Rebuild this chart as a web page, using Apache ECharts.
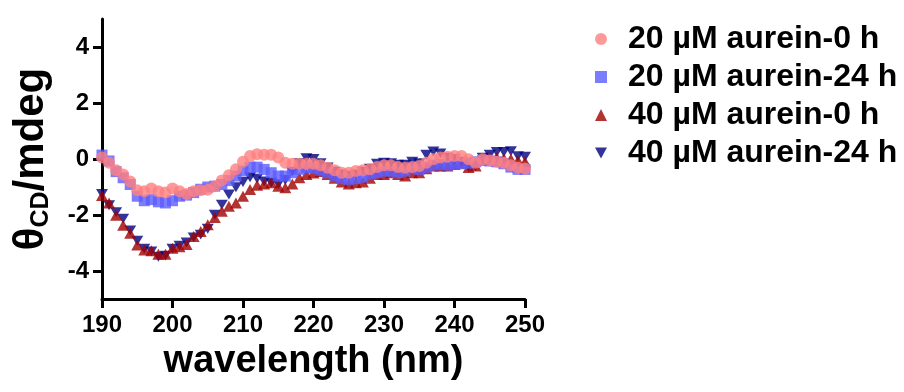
<!DOCTYPE html>
<html>
<head>
<meta charset="utf-8">
<script src="https://cdn.jsdelivr.net/npm/echarts@6/dist/echarts.min.js"></script>
<style>
    html, body { margin: 0; padding: 0; background: #fff; }
    #chart { width: 904px; height: 392px; }
</style>
</head>
<body>
<div id="chart"></div>
<script>
// wavelength (nm)
var wavelength = [190, 191, 192, 193, 194, 195, 196, 197, 198, 199,
    200, 201, 202, 203, 204, 205, 206, 207, 208, 209,
    210, 211, 212, 213, 214, 215, 216, 217, 218, 219,
    220, 221, 222, 223, 224, 225, 226, 227, 228, 229,
    230, 231, 232, 233, 234, 235, 236, 237, 238, 239,
    240, 241, 242, 243, 244, 245, 246, 247, 248, 249, 250];

// 20 µM aurein-0 h
var aurein20_0h = [0.05, -0.13, -0.40, -0.55, -0.80, -1.12, -1.15, -1.05, -1.15, -1.20,
    -1.05, -1.15, -1.25, -1.15, -1.12, -1.10, -0.97, -0.77, -0.58, -0.37,
    -0.10, 0.11, 0.17, 0.15, 0.15, 0.05, -0.13, -0.17, -0.17, -0.17,
    -0.17, -0.22, -0.31, -0.40, -0.49, -0.49, -0.43, -0.40, -0.37, -0.29,
    -0.22, -0.22, -0.29, -0.31, -0.29, -0.25, -0.13, -0.01, 0.05, 0.08,
    0.11, 0.11, -0.01, -0.13, -0.01, -0.05, -0.10, -0.13, -0.22, -0.31, -0.35];

// 20 µM aurein-24 h
var aurein20_24h = [0.14, -0.07, -0.45, -0.67, -0.91, -1.33, -1.49, -1.45, -1.53, -1.57,
    -1.49, -1.33, -1.29, -1.20, -1.08, -1.00, -0.97, -0.91, -0.77, -0.61,
    -0.43, -0.29, -0.29, -0.37, -0.49, -0.61, -0.61, -0.49, -0.37, -0.31,
    -0.33, -0.40, -0.49, -0.61, -0.70, -0.73, -0.70, -0.65, -0.55, -0.49,
    -0.43, -0.43, -0.49, -0.43, -0.33, -0.37, -0.29, -0.22, -0.19, -0.22,
    -0.19, -0.17, -0.15, -0.10, -0.05, -0.07, -0.10, -0.17, -0.29, -0.37, -0.37];

// 40 µM aurein-0 h
var aurein40_0h = [-1.30, -1.57, -2.01, -2.37, -2.65, -3.07, -3.25, -3.28, -3.40, -3.40,
    -3.19, -3.13, -3.05, -2.77, -2.59, -2.35, -2.09, -1.87, -1.69, -1.57,
    -1.33, -1.09, -0.94, -0.89, -0.85, -0.97, -1.03, -0.89, -0.67, -0.55,
    -0.50, -0.45, -0.55, -0.69, -0.82, -0.89, -0.85, -0.82, -0.69, -0.55,
    -0.55, -0.49, -0.55, -0.61, -0.49, -0.49, -0.35, -0.25, -0.25, -0.25,
    -0.20, -0.15, -0.30, -0.25, 0.02, 0.05, 0.05, 0.02, 0.00, -0.05, -0.10];

// 40 µM aurein-24 h
var aurein40_24h = [-1.25, -1.65, -1.90, -2.13, -2.55, -2.92, -3.20, -3.30, -3.49, -3.45,
    -3.20, -3.10, -2.98, -2.80, -2.70, -2.49, -1.99, -1.63, -1.27, -1.01,
    -0.82, -0.65, -0.70, -0.80, -0.85, -0.90, -0.75, -0.45, -0.15, 0.03,
    0.00, -0.15, -0.30, -0.45, -0.55, -0.60, -0.55, -0.45, -0.35, -0.17,
    -0.13, -0.15, -0.20, -0.20, -0.10, -0.15, 0.15, 0.27, 0.20, 0.05,
    0.00, -0.10, -0.30, -0.25, 0.05, 0.15, 0.25, 0.25, 0.28, 0.10, 0.08];

var xTicks = [190, 200, 210, 220, 230, 240, 250];
var yTicks = [-4, -2, 0, 2, 4];

var names = ['20 µM aurein-0 h', '20 µM aurein-24 h', '40 µM aurein-0 h', '40 µM aurein-24 h'];

// downward triangle, used for the 24 h / 40 µM set (also in the legend)
var triangleDown = 'path://M0,0L10,0L5,9Z';

function pairs(values) {
    return wavelength.map(function (w, i) { return [w, values[i]]; });
}

var font = 'Liberation Sans, Arial, Helvetica, sans-serif';
var axisColor = '#000';

var myChart = echarts.init(document.getElementById('chart'), null, { renderer: 'canvas' });

var option = {
    animation: false,
    backgroundColor: '#fff',
    textStyle: { fontFamily: font },
    grid: { left: 102, right: 379, top: 19, bottom: 93, containLabel: false, outerBoundsMode: 'none' },
    legend: {
        data: names,
        orient: 'vertical',
        left: 590,
        top: 18,
        itemWidth: 12,
        itemHeight: 12,
        itemGap: 6,
        symbolKeepAspect: true,
        textStyle: { fontSize: 32, fontWeight: 'bold', color: '#000', lineHeight: 32, fontFamily: font, padding: [0, 0, 0, 16] },
    },
    xAxis: {
        type: 'value',
        min: 190,
        max: 250,
        interval: 10,
        name: 'wavelength (nm)',
        nameLocation: 'middle',
        nameGap: 44,
        nameTextStyle: { fontSize: 38, fontWeight: 'bold', color: '#000', fontFamily: font },
        axisLine: { onZero: false, lineStyle: { color: axisColor, width: 3 } },
        axisTick: { show: true, length: 9, lineStyle: { color: axisColor, width: 3 } },
        axisLabel: { fontSize: 24, fontWeight: 'bold', color: '#000', margin: 14, fontFamily: font, customValues: xTicks },
        splitLine: { show: false },
    },
    yAxis: {
        type: 'value',
        min: -5,
        max: 5,
        interval: 1,
        name: '{t|θ}{s|CD}{t|/mdeg}',
        nameLocation: 'middle',
        nameGap: 50,
        nameTextStyle: {
            color: '#000',
            fontFamily: font,
            rich: {
                t: { fontSize: 42, fontWeight: 'bold', color: '#000', fontFamily: font, verticalAlign: 'bottom', lineHeight: 44 },
                s: { fontSize: 25, fontWeight: 'bold', color: '#000', fontFamily: font, verticalAlign: 'bottom', lineHeight: 44, padding: [0, 0, -2, 0] },
            },
        },
        axisLine: { onZero: false, lineStyle: { color: axisColor, width: 3 } },
        axisTick: { show: true, length: 9, lineStyle: { color: axisColor, width: 3 }, customValues: yTicks },
        axisLabel: { fontSize: 24, fontWeight: 'bold', color: '#000', margin: 13, fontFamily: font, customValues: yTicks },
        splitLine: { show: false },
    },
    // drawn back to front so that the first set sits on top, as in the reference
    series: [
        {
            name: names[3],
            type: 'scatter',
            symbol: triangleDown,
            symbolSize: [12, 11],
            symbolKeepAspect: true,
            itemStyle: { color: '#000080' },
            data: pairs(aurein40_24h),
        },
        {
            name: names[2],
            type: 'scatter',
            symbol: 'triangle',
            symbolSize: [12, 11],
            symbolKeepAspect: true,
            itemStyle: { color: '#A00000' },
            data: pairs(aurein40_0h),
        },
        {
            name: names[1],
            type: 'scatter',
            symbol: 'rect',
            symbolSize: 11,
            symbolKeepAspect: true,
            itemStyle: { color: '#5B5BFF' },
            data: pairs(aurein20_24h),
        },
        {
            name: names[0],
            type: 'scatter',
            symbol: 'circle',
            symbolSize: 12,
            symbolKeepAspect: true,
            itemStyle: { color: '#FF8080' },
            data: pairs(aurein20_0h),
        },
    ],
};

myChart.setOption(option);
</script>
</body>
</html>
